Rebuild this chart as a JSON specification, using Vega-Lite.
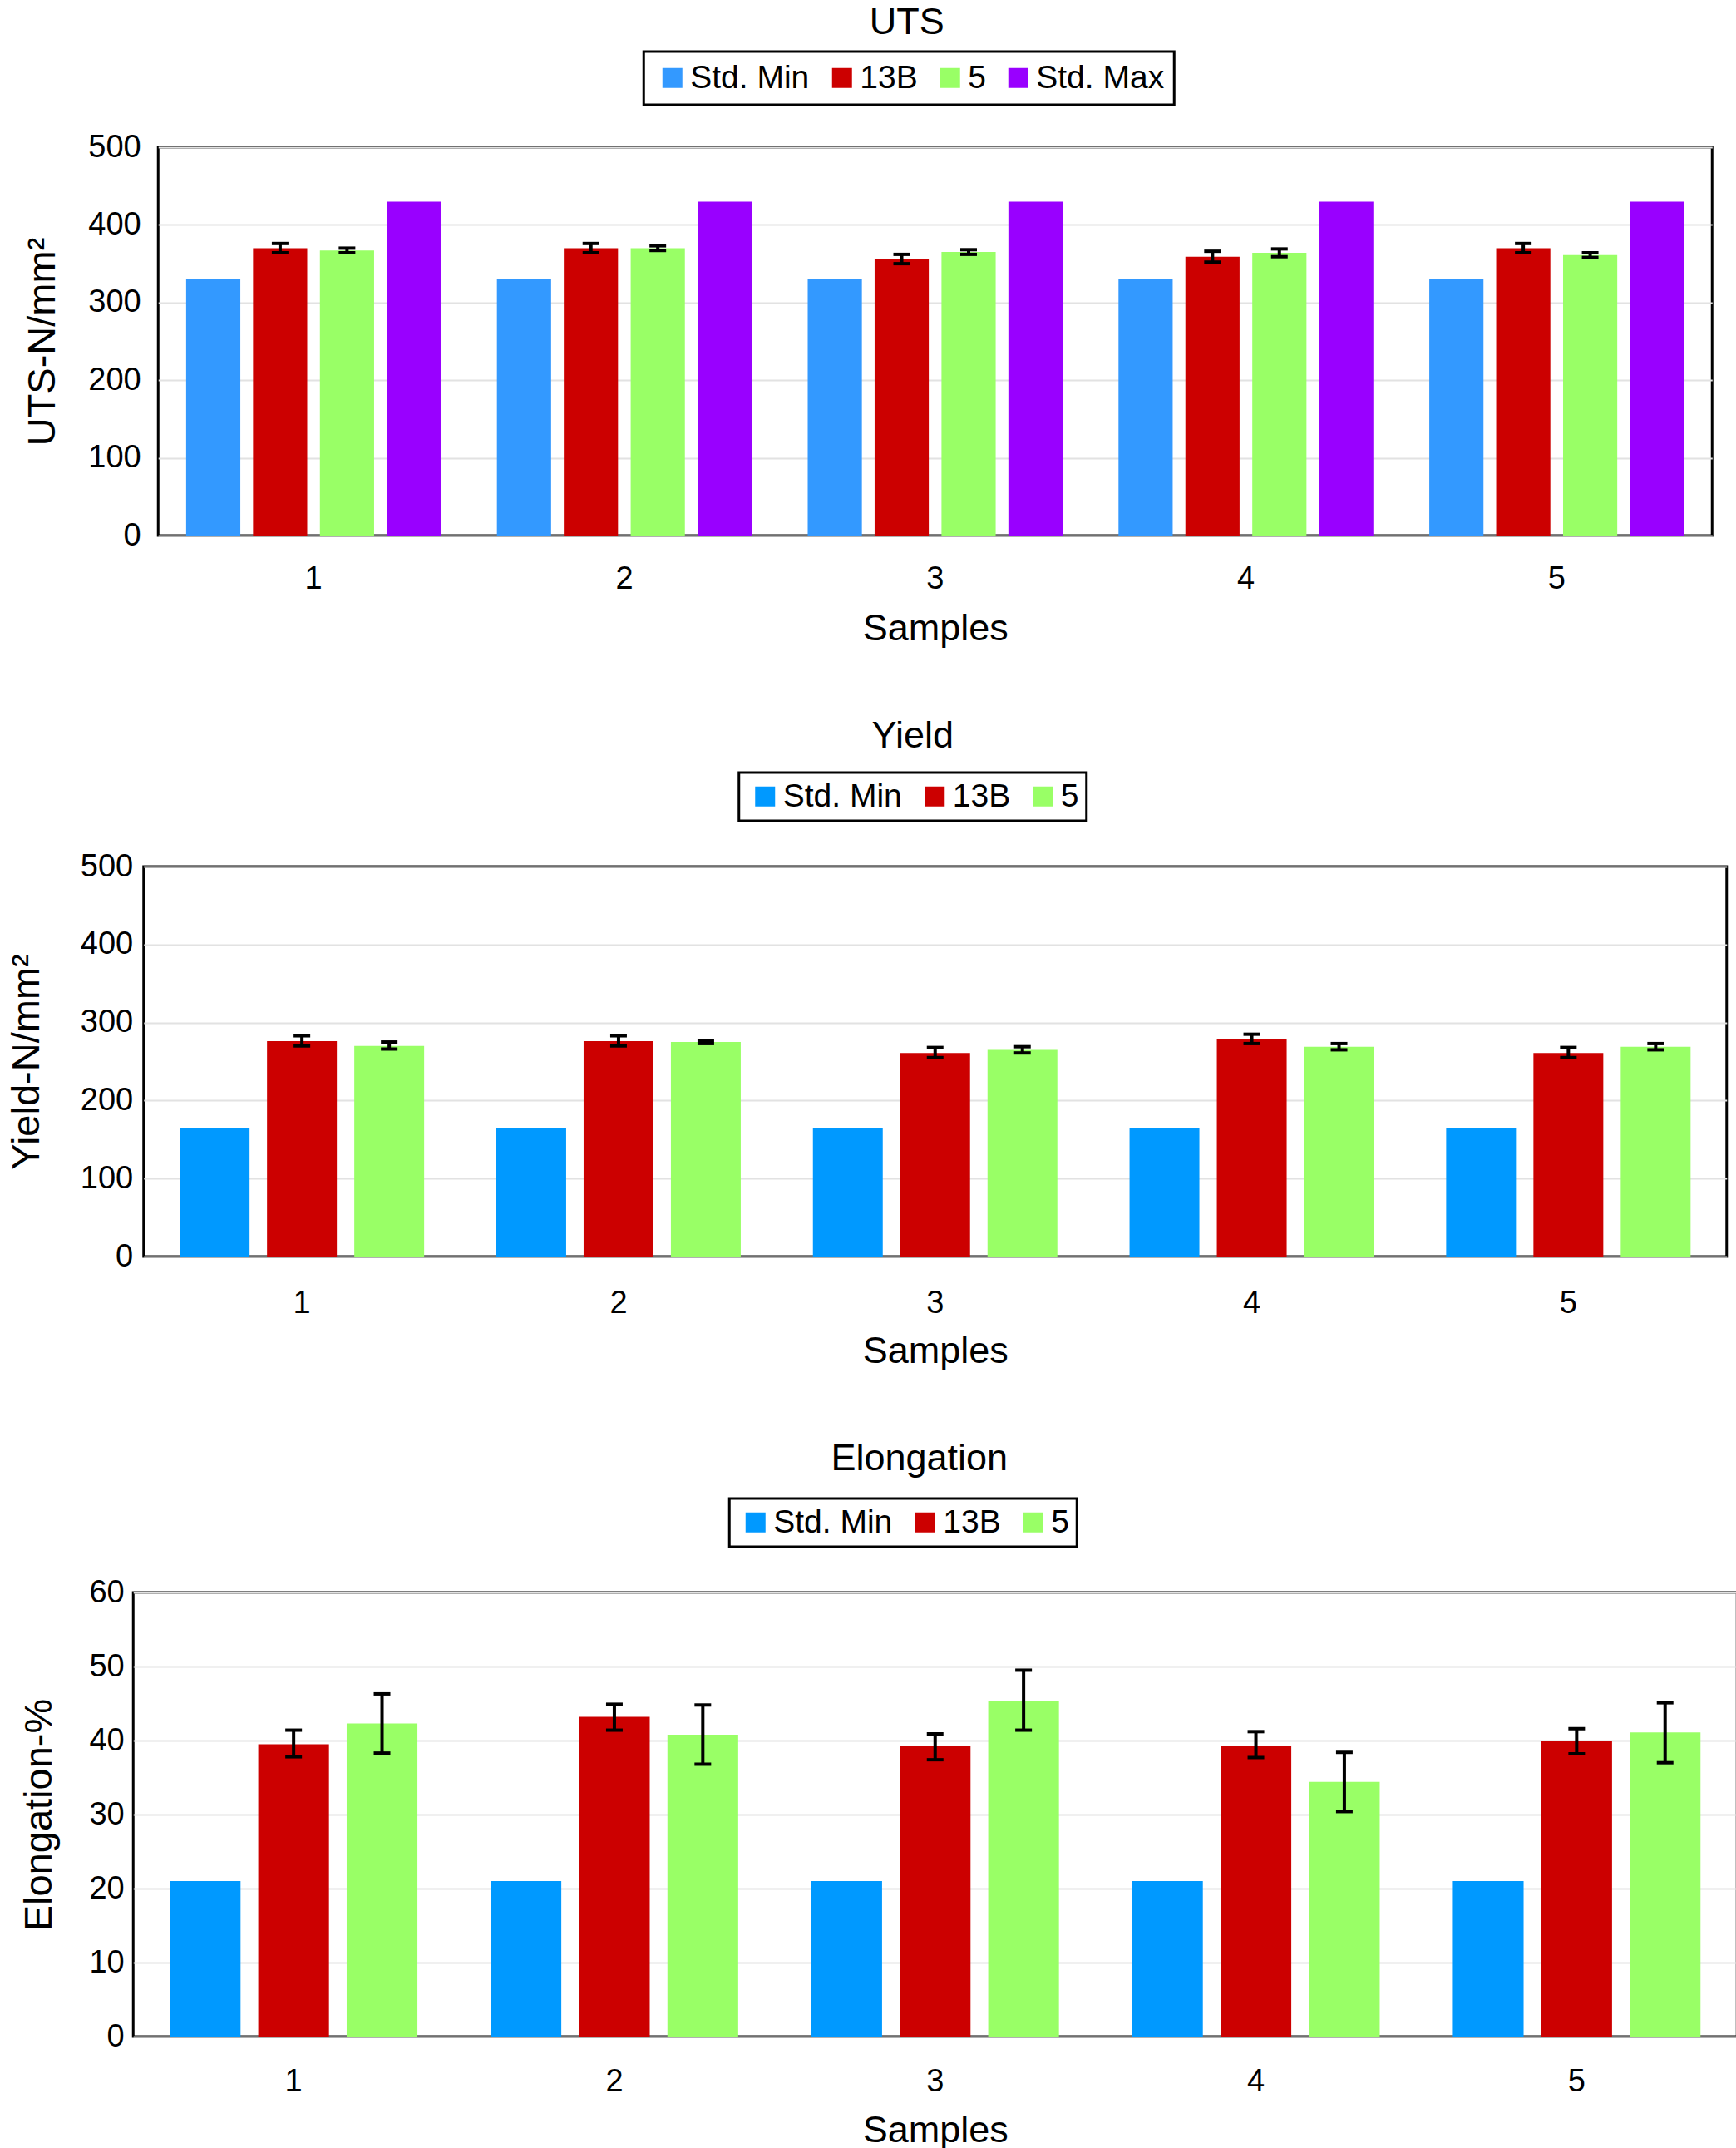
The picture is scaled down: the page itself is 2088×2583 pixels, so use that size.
{
  "$schema": "https://vega.github.io/schema/vega-lite/v6.json",
  "background": "white",
  "padding": {"left": 6, "top": 3, "right": 0, "bottom": 0},
  "center": true,
  "spacing": 81,
  "resolve": {
    "scale": {"color": "independent", "x": "independent", "y": "independent", "xOffset": "independent"},
    "legend": {"color": "independent"},
    "axis": {"x": "independent", "y": "independent"}
  },
  "config": {
    "font": "Liberation Sans",
    "view": {"stroke": "black", "strokeWidth": 3},
    "axis": {
      "domain": false,
      "ticks": false,
      "labelColor": "black",
      "titleColor": "black",
      "labelFont": "Liberation Sans",
      "titleFont": "Liberation Sans",
      "titleFontWeight": "normal",
      "labelFontSize": 38,
      "titleFontSize": 45,
      "gridColor": "#e2e2e2",
      "gridWidth": 2
    },
    "axisY": {"titleFontSize": 47},
    "legend": {
      "orient": "none",
      "direction": "horizontal",
      "symbolType": "square",
      "symbolSize": 576,
      "symbolStrokeWidth": 0,
      "symbolOpacity": 1,
      "labelFont": "Liberation Sans",
      "labelFontSize": 39,
      "labelColor": "black",
      "strokeColor": "black",
      "strokeWidth": 3,
      "padding": 12,
      "symbolOffset": 3,
      "columnPadding": 16,
      "labelOffset": 2
    },
    "title": {"fontSize": 45, "fontWeight": "normal", "color": "black", "font": "Liberation Sans"}
  },
  "vconcat": [
    {
      "title": {"text": "UTS", "dx": -34, "offset": 11},
      "width": 1869,
      "height": 467,
      "data": {"values": [
        {"sample": "1", "series": "Std. Min", "value": 330},
        {"sample": "1", "series": "13B", "value": 370, "lo": 364, "hi": 376},
        {"sample": "1", "series": "5", "value": 367, "lo": 364, "hi": 370},
        {"sample": "1", "series": "Std. Max", "value": 430},
        {"sample": "2", "series": "Std. Min", "value": 330},
        {"sample": "2", "series": "13B", "value": 370, "lo": 364, "hi": 376},
        {"sample": "2", "series": "5", "value": 370, "lo": 367, "hi": 373},
        {"sample": "2", "series": "Std. Max", "value": 430},
        {"sample": "3", "series": "Std. Min", "value": 330},
        {"sample": "3", "series": "13B", "value": 356, "lo": 350, "hi": 362},
        {"sample": "3", "series": "5", "value": 365, "lo": 362, "hi": 368},
        {"sample": "3", "series": "Std. Max", "value": 430},
        {"sample": "4", "series": "Std. Min", "value": 330},
        {"sample": "4", "series": "13B", "value": 359, "lo": 352, "hi": 366},
        {"sample": "4", "series": "5", "value": 364, "lo": 359, "hi": 369},
        {"sample": "4", "series": "Std. Max", "value": 430},
        {"sample": "5", "series": "Std. Min", "value": 330},
        {"sample": "5", "series": "13B", "value": 370, "lo": 364, "hi": 376},
        {"sample": "5", "series": "5", "value": 361, "lo": 358, "hi": 364},
        {"sample": "5", "series": "Std. Max", "value": 430}
      ]},
      "layer": [
        {
          "mark": {"type": "bar"},
          "encoding": {
            "x": {"field": "sample", "type": "nominal",
              "scale": {"paddingInner": 0.18, "paddingOuter": 0.09},
              "axis": {"labelAngle": 0, "title": "Samples", "grid": false, "labelPadding": 33, "titlePadding": 18}},
            "xOffset": {"field": "series", "type": "nominal",
              "scale": {"domain": ["Std. Min", "13B", "5", "Std. Max"], "paddingInner": 0.19, "paddingOuter": 0}},
            "y": {"field": "value", "type": "quantitative",
              "scale": {"domain": [0, 500]},
              "axis": {"values": [0, 100, 200, 300, 400, 500], "title": "UTS-N/mm²", "labelPadding": 21, "titlePadding": 30}},
            "color": {"field": "series", "type": "nominal",
              "scale": {"domain": ["Std. Min", "13B", "5", "Std. Max"], "range": ["#3399ff", "#cc0000", "#99ff66", "#9900ff"]},
              "legend": {"title": null, "legendX": 584, "legendY": -115}}
          }
        },
        {
          "transform": [{"filter": "isValid(datum.lo)"}],
          "mark": {"type": "rule", "color": "black", "strokeWidth": 4},
          "encoding": {
            "x": {"field": "sample", "type": "nominal"},
            "xOffset": {"field": "series", "type": "nominal"},
            "y": {"field": "hi", "type": "quantitative"},
            "y2": {"field": "lo"}
          }
        },
        {
          "transform": [{"filter": "isValid(datum.lo)"}],
          "mark": {"type": "tick", "color": "black", "size": 20, "thickness": 4, "opacity": 1},
          "encoding": {
            "x": {"field": "sample", "type": "nominal"},
            "xOffset": {"field": "series", "type": "nominal"},
            "y": {"field": "hi", "type": "quantitative"}
          }
        },
        {
          "transform": [{"filter": "isValid(datum.lo)"}],
          "mark": {"type": "tick", "color": "black", "size": 20, "thickness": 4, "opacity": 1},
          "encoding": {
            "x": {"field": "sample", "type": "nominal"},
            "xOffset": {"field": "series", "type": "nominal"},
            "y": {"field": "lo", "type": "quantitative"}
          }
        }
      ]
    },
    {
      "title": {"text": "Yield", "dx": -27, "offset": 20},
      "width": 1904,
      "height": 469,
      "data": {"values": [
        {"sample": "1", "series": "Std. Min", "value": 165},
        {"sample": "1", "series": "13B", "value": 276, "lo": 270, "hi": 283},
        {"sample": "1", "series": "5", "value": 270, "lo": 266, "hi": 275},
        {"sample": "2", "series": "Std. Min", "value": 165},
        {"sample": "2", "series": "13B", "value": 276, "lo": 270, "hi": 283},
        {"sample": "2", "series": "5", "value": 275, "lo": 273, "hi": 277},
        {"sample": "3", "series": "Std. Min", "value": 165},
        {"sample": "3", "series": "13B", "value": 261, "lo": 255, "hi": 268},
        {"sample": "3", "series": "5", "value": 265, "lo": 261, "hi": 269},
        {"sample": "4", "series": "Std. Min", "value": 165},
        {"sample": "4", "series": "13B", "value": 279, "lo": 273, "hi": 285},
        {"sample": "4", "series": "5", "value": 269, "lo": 265, "hi": 273},
        {"sample": "5", "series": "Std. Min", "value": 165},
        {"sample": "5", "series": "13B", "value": 261, "lo": 255, "hi": 268},
        {"sample": "5", "series": "5", "value": 269, "lo": 265, "hi": 273}
      ]},
      "layer": [
        {
          "mark": {"type": "bar"},
          "encoding": {
            "x": {"field": "sample", "type": "nominal",
              "scale": {"paddingInner": 0.228, "paddingOuter": 0.114},
              "axis": {"labelAngle": 0, "title": "Samples", "grid": false, "labelPadding": 37, "titlePadding": 16}},
            "xOffset": {"field": "series", "type": "nominal",
              "scale": {"domain": ["Std. Min", "13B", "5"], "paddingInner": 0.2, "paddingOuter": 0}},
            "y": {"field": "value", "type": "quantitative",
              "scale": {"domain": [0, 500]},
              "axis": {"values": [0, 100, 200, 300, 400, 500], "title": "Yield-N/mm²", "labelPadding": 13, "titlePadding": 40}},
            "color": {"field": "series", "type": "nominal",
              "scale": {"domain": ["Std. Min", "13B", "5"], "range": ["#0099ff", "#cc0000", "#99ff66"]},
              "legend": {"title": null, "legendX": 716, "legendY": -113, "padding": 9}}
          }
        },
        {
          "transform": [{"filter": "isValid(datum.lo)"}],
          "mark": {"type": "rule", "color": "black", "strokeWidth": 4},
          "encoding": {
            "x": {"field": "sample", "type": "nominal"},
            "xOffset": {"field": "series", "type": "nominal"},
            "y": {"field": "hi", "type": "quantitative"},
            "y2": {"field": "lo"}
          }
        },
        {
          "transform": [{"filter": "isValid(datum.lo)"}],
          "mark": {"type": "tick", "color": "black", "size": 20, "thickness": 4, "opacity": 1},
          "encoding": {
            "x": {"field": "sample", "type": "nominal"},
            "xOffset": {"field": "series", "type": "nominal"},
            "y": {"field": "hi", "type": "quantitative"}
          }
        },
        {
          "transform": [{"filter": "isValid(datum.lo)"}],
          "mark": {"type": "tick", "color": "black", "size": 20, "thickness": 4, "opacity": 1},
          "encoding": {
            "x": {"field": "sample", "type": "nominal"},
            "xOffset": {"field": "series", "type": "nominal"},
            "y": {"field": "lo", "type": "quantitative"}
          }
        }
      ]
    },
    {
      "title": {"text": "Elongation", "dx": -19, "offset": 24},
      "width": 1929,
      "height": 534,
      "data": {"values": [
        {"sample": "1", "series": "Std. Min", "value": 21},
        {"sample": "1", "series": "13B", "value": 39.5, "lo": 37.8, "hi": 41.4},
        {"sample": "1", "series": "5", "value": 42.3, "lo": 38.3, "hi": 46.3},
        {"sample": "2", "series": "Std. Min", "value": 21},
        {"sample": "2", "series": "13B", "value": 43.2, "lo": 41.4, "hi": 44.9},
        {"sample": "2", "series": "5", "value": 40.8, "lo": 36.8, "hi": 44.8},
        {"sample": "3", "series": "Std. Min", "value": 21},
        {"sample": "3", "series": "13B", "value": 39.2, "lo": 37.4, "hi": 40.9},
        {"sample": "3", "series": "5", "value": 45.4, "lo": 41.4, "hi": 49.5},
        {"sample": "4", "series": "Std. Min", "value": 21},
        {"sample": "4", "series": "13B", "value": 39.2, "lo": 37.7, "hi": 41.2},
        {"sample": "4", "series": "5", "value": 34.4, "lo": 30.4, "hi": 38.4},
        {"sample": "5", "series": "Std. Min", "value": 21},
        {"sample": "5", "series": "13B", "value": 39.9, "lo": 38.2, "hi": 41.6},
        {"sample": "5", "series": "5", "value": 41.1, "lo": 37.0, "hi": 45.1}
      ]},
      "layer": [
        {
          "mark": {"type": "bar"},
          "encoding": {
            "x": {"field": "sample", "type": "nominal",
              "scale": {"paddingInner": 0.228, "paddingOuter": 0.114},
              "axis": {"labelAngle": 0, "title": "Samples", "grid": false, "labelPadding": 35, "titlePadding": 17}},
            "xOffset": {"field": "series", "type": "nominal",
              "scale": {"domain": ["Std. Min", "13B", "5"], "paddingInner": 0.2, "paddingOuter": 0}},
            "y": {"field": "value", "type": "quantitative",
              "scale": {"domain": [0, 60]},
              "axis": {"values": [0, 10, 20, 30, 40, 50, 60], "title": "Elongation-%", "labelPadding": 11, "titlePadding": 35}},
            "color": {"field": "series", "type": "nominal",
              "scale": {"domain": ["Std. Min", "13B", "5"], "range": ["#0099ff", "#cc0000", "#99ff66"]},
              "legend": {"title": null, "legendX": 717, "legendY": -113, "padding": 9}}
          }
        },
        {
          "transform": [{"filter": "isValid(datum.lo)"}],
          "mark": {"type": "rule", "color": "black", "strokeWidth": 4},
          "encoding": {
            "x": {"field": "sample", "type": "nominal"},
            "xOffset": {"field": "series", "type": "nominal"},
            "y": {"field": "hi", "type": "quantitative"},
            "y2": {"field": "lo"}
          }
        },
        {
          "transform": [{"filter": "isValid(datum.lo)"}],
          "mark": {"type": "tick", "color": "black", "size": 20, "thickness": 4, "opacity": 1},
          "encoding": {
            "x": {"field": "sample", "type": "nominal"},
            "xOffset": {"field": "series", "type": "nominal"},
            "y": {"field": "hi", "type": "quantitative"}
          }
        },
        {
          "transform": [{"filter": "isValid(datum.lo)"}],
          "mark": {"type": "tick", "color": "black", "size": 20, "thickness": 4, "opacity": 1},
          "encoding": {
            "x": {"field": "sample", "type": "nominal"},
            "xOffset": {"field": "series", "type": "nominal"},
            "y": {"field": "lo", "type": "quantitative"}
          }
        }
      ]
    }
  ]
}
